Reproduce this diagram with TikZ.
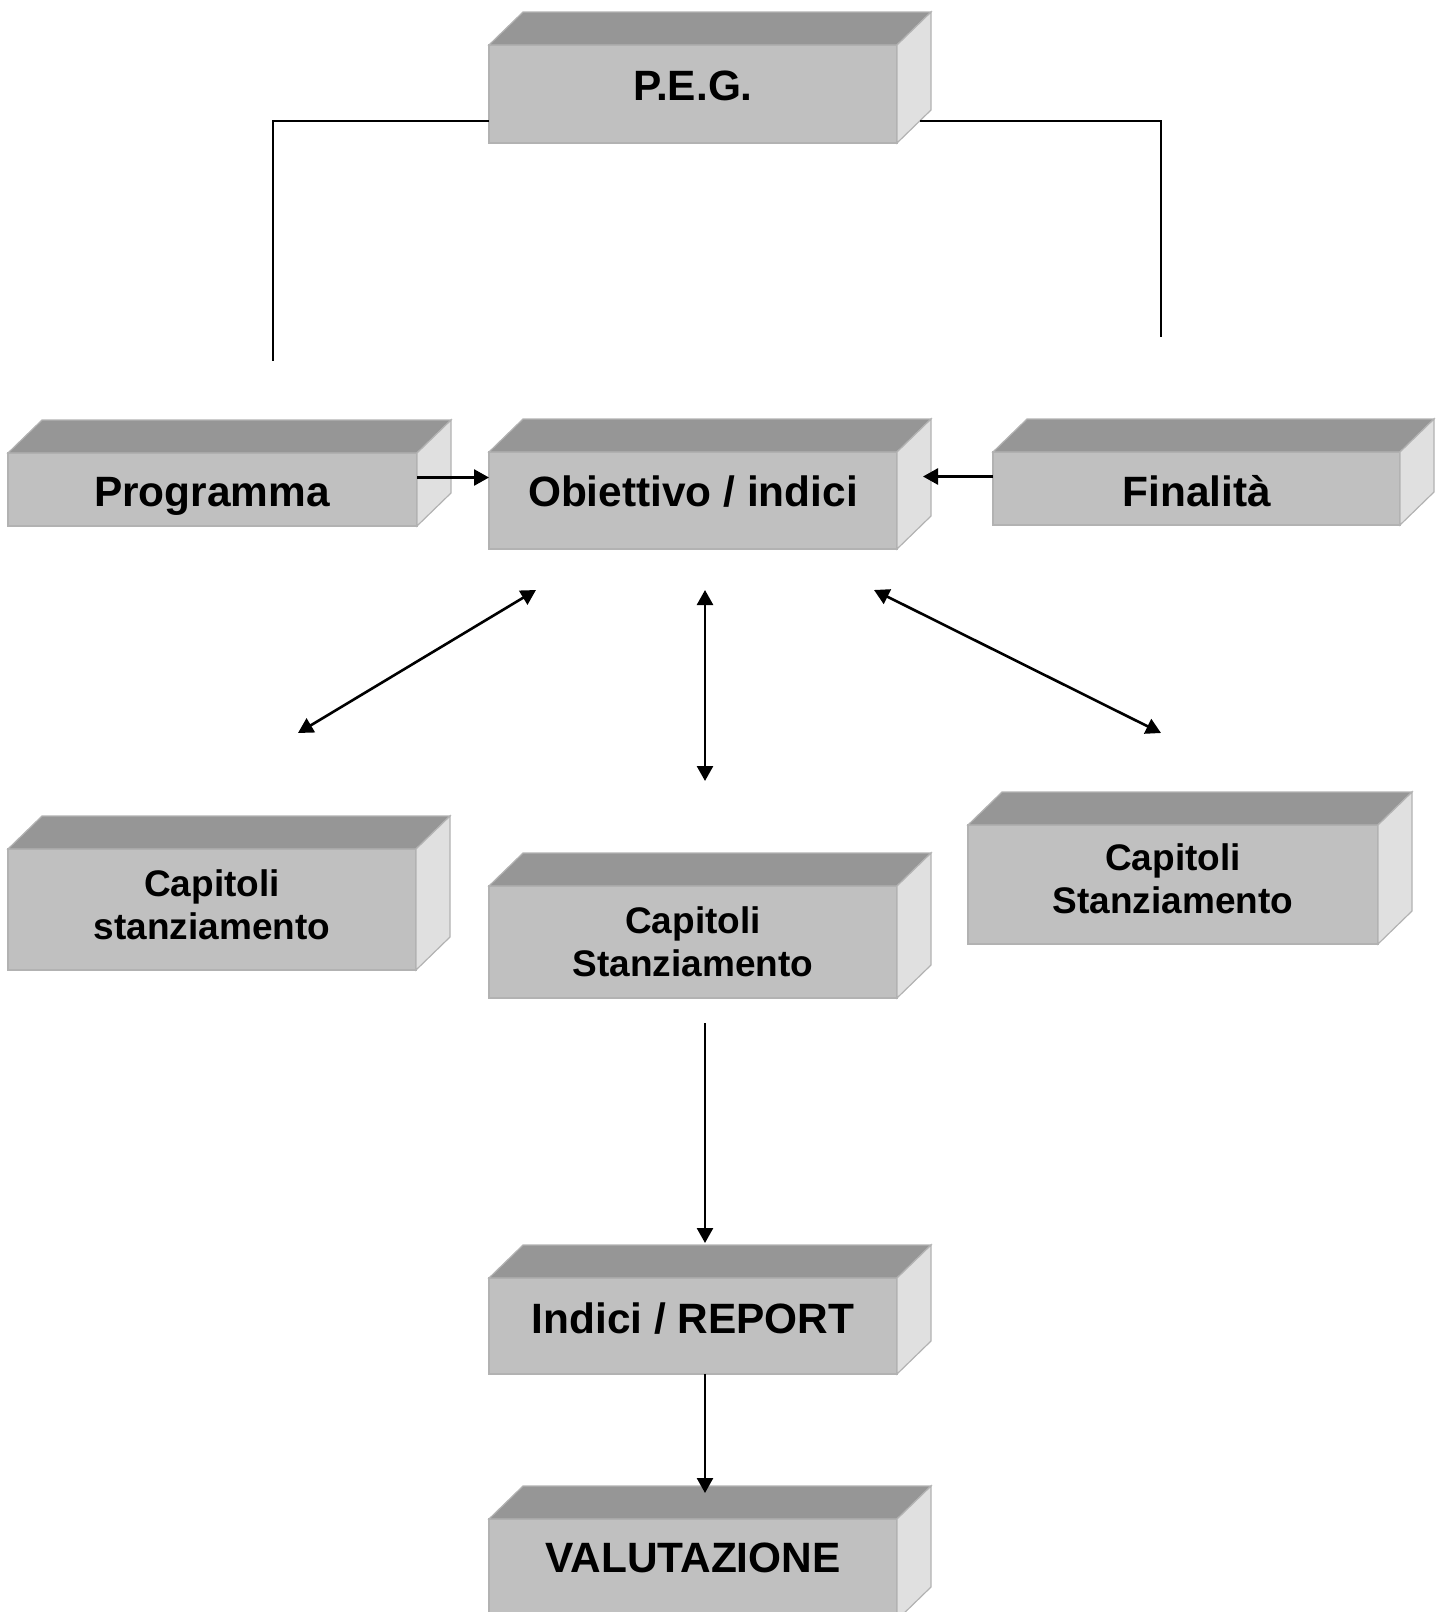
\documentclass[tikz,border=0pt]{standalone}
\usepackage{fontspec}
\setmainfont{Liberation Sans}
\usetikzlibrary{arrows.meta,positioning}

\definecolor{frontgray}{RGB}{192,192,192}
\definecolor{topgray}{RGB}{150,150,150}
\definecolor{sidegray}{RGB}{224,224,224}
\definecolor{edgegray}{RGB}{178,178,178}

\tikzset{
  frontbox/.style={fill=frontgray, draw=edgegray, line width=0.6pt, inner sep=0pt, outer sep=0pt},
  topface/.style={fill=topgray, draw=edgegray, line width=0.6pt},
  sideface/.style={fill=sidegray, draw=edgegray, line width=0.6pt},
  bigtext/.style={font=\bfseries\fontsize{21.2}{25}\selectfont, anchor=base},
  smalltext/.style={font=\bfseries\fontsize{18.5}{21.5}\selectfont, align=center, anchor=base},
  link/.style={line width=0.75pt},
  tip/.tip={Triangle[length=7.5pt,width=8pt]},
  arr/.style={line width=1.3pt, -tip},
  dblarr/.style={line width=1.3pt, tip-tip},
}

% box with top and side faces: name, left, top, right, bottom (pixels)
\newcommand{\cube}[5]{%
  \node[frontbox, anchor=north west, minimum width={(#4-#2)*0.5pt}, minimum height={(#5-#3)*0.5pt}] (#1) at (#2,#3) {};
  \filldraw[topface] (#1.north west) -- ++(34,-33) -- ++({#4-#2},0) -- (#1.north east) -- cycle;
  \filldraw[sideface] (#1.north east) -- ++(34,-33) -- ++(0,{#5-#3}) -- (#1.south east) -- cycle;
}

\begin{document}
\begin{tikzpicture}[x=0.5pt, y=-0.5pt]
    \clip (0,0) rectangle (1445,1612);

    % Boxes
    \cube{peg}{489}{45}{897}{143}
    \cube{prog}{8}{453}{417}{526}
    \cube{obi}{489}{452}{897}{549}
    \cube{fin}{993}{452}{1400}{525}
    \cube{capL}{8}{849}{416}{970}
    \cube{capC}{489}{886}{897}{998}
    \cube{capR}{968}{825}{1378}{944}
    \cube{ind}{489}{1278}{897}{1374}
    \cube{val}{489}{1519}{897}{1620}

    % Labels (base = last line)
    \node[bigtext] (pegtxt) at (693,100) {P.E.G.};
    \node[bigtext] (progtxt) at (212,506) {Programma};
    \node[bigtext] (obitxt) at (693,506) {Obiettivo / indici};
    \node[bigtext] (fintxt) at (1197,506) {Finalità};
    \node[smalltext] (capLtxt) at (212,939) {Capitoli\\stanziamento};
    \node[smalltext] (capCtxt) at (693,976) {Capitoli\\Stanziamento};
    \node[smalltext] (capRtxt) at (1173,913) {Capitoli\\Stanziamento};
    \node[bigtext] (indtxt) at (693,1333) {Indici / REPORT};
    \node[bigtext] (valtxt) at (693,1572) {VALUTAZIONE};

    % Free ends of the connectors
    \coordinate (pegL) at (273,361);
    \coordinate (pegR) at (1161,337);
    \coordinate (obiL) at (536,590);
    \coordinate (obiM) at (705,590);
    \coordinate (obiR) at (874,590);
    \coordinate (capLend) at (298,733);
    \coordinate (capCend) at (705,781);
    \coordinate (capRend) at (1161,733);

    % P.E.G. lines
    \draw[link] ([yshift=11pt]peg.south west) -| (pegL);
    \draw[link] ([shift={(11.5pt,11pt)}]peg.south east) -| (pegR);

    % Arrows into Obiettivo
    \draw[arr] ([yshift=6pt]prog.east) -- ([yshift=6pt]prog.east -| obi.west);
    \draw[arr] ([yshift=6pt]fin.west) -- ++(-70,0);

    % Double arrows
    \draw[dblarr] (obiL) -- (capLend);
    \draw[dblarr] (obiM) -- (capCend);
    \draw[dblarr] (obiR) -- (capRend);

    % Down to the report
    \draw[arr] ([shift={(6pt,-12.5pt)}]capC.south) -- ([shift={(6pt,17.5pt)}]ind.north);
    \draw[arr] ([xshift=6pt]ind.south) -- ([shift={(6pt,13pt)}]val.north);
\end{tikzpicture}
\end{document}
